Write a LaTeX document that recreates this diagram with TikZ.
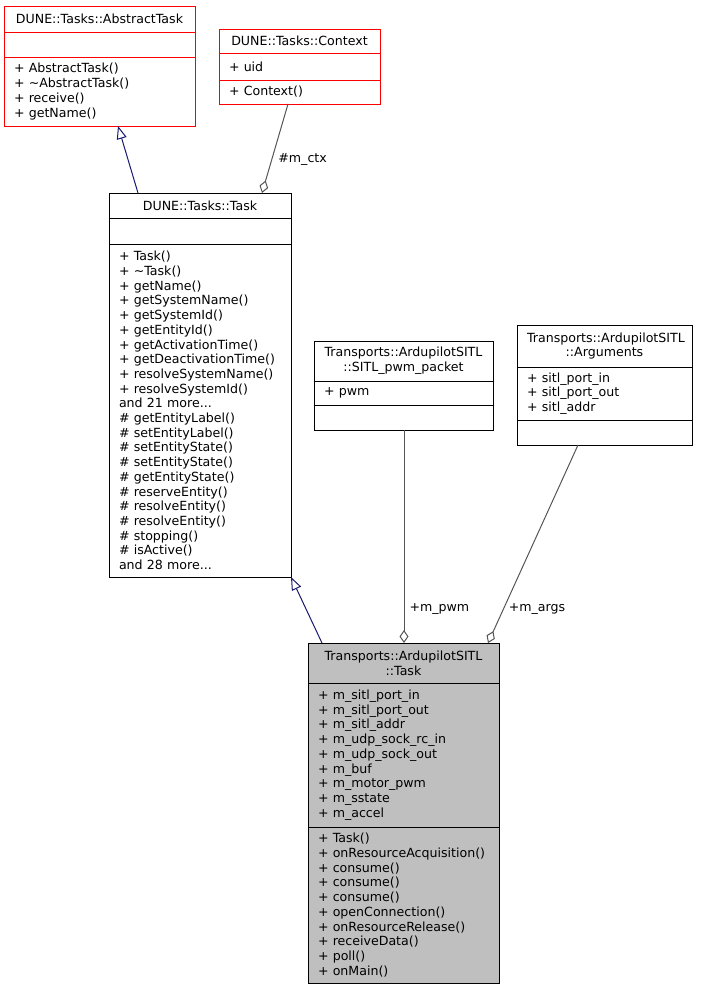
\documentclass[tikz,border=0pt]{standalone}
\usepackage{fontspec}
\setmainfont{DejaVu Sans}
\usetikzlibrary{arrows.meta}
\newcommand{\umlfont}{\fontsize{12.6}{14.7}\selectfont}
\definecolor{inhblue}{HTML}{191970}
\definecolor{usegray}{HTML}{555555}
\definecolor{boxgray}{HTML}{BFBFBF}
\tikzset{
  comp/.style={draw, line width=1pt, anchor=north west, outer sep=0pt,
    inner xsep=10pt, inner ysep=1pt, font=\umlfont, align=left},
  classname/.style={comp, align=center},
  inherit/.style={draw=inhblue, line width=1pt,
    -{Triangle[open, length=13pt, width=10pt, fill=white]}},
  member/.style={draw=usegray, line width=1pt,
    -{Diamond[open, length=13pt, width=9pt, fill=white]}},
  lbl/.style={font=\umlfont, anchor=west, inner sep=0pt}
}

\begin{document}
\begin{tikzpicture}[x=1pt,y=-1pt]
  \useasboundingbox (0,0) rectangle (701,989);
  % DUNE::Tasks::AbstractTask
  \node[classname, draw=red, text width=171pt, minimum height=26pt] (atT) at (4,6) {DUNE::Tasks::AbstractTask};
  \node[comp, draw=red, text width=171pt, minimum height=25pt] (atA) at (atT.south west) {};
  \node[comp, draw=red, text width=171pt, minimum height=69pt] (atM) at (atA.south west)
    {+ AbstractTask()\\+ \textasciitilde AbstractTask()\\+ receive()\\+ getName()};
  % DUNE::Tasks::Context
  \node[classname, draw=red, text width=141pt, minimum height=24pt] (ctxT) at (219,29) {DUNE::Tasks::Context};
  \node[comp, draw=red, text width=141pt, minimum height=27pt] (ctxA) at (ctxT.south west) {+ uid};
  \node[comp, draw=red, text width=141pt, minimum height=24pt] (ctxM) at (ctxA.south west) {+ Context()};
  % DUNE::Tasks::Task
  \node[classname, text width=162pt, minimum height=25pt] (taskT) at (109,193) {DUNE::Tasks::Task};
  \node[comp, text width=162pt, minimum height=26pt] (taskA) at (taskT.south west) {};
  \node[comp, text width=162pt, minimum height=333pt] (taskM) at (taskA.south west)
    {+ Task()\\+ \textasciitilde Task()\\+ getName()\\+ getSystemName()\\+ getSystemId()\\
     + getEntityId()\\+ getActivationTime()\\+ getDeactivationTime()\\+ resolveSystemName()\\
     + resolveSystemId()\\and 21 more...\\\# getEntityLabel()\\\# setEntityLabel()\\
     \# setEntityState()\\\# setEntityState()\\\# getEntityState()\\\# reserveEntity()\\
     \# resolveEntity()\\\# resolveEntity()\\\# stopping()\\\# isActive()\\and 28 more...};
  % Transports::ArdupilotSITL::SITL_pwm_packet
  \node[classname, text width=159pt, minimum height=40pt] (pwmT) at (314,341)
    {Transports::ArdupilotSITL\\::SITL\_pwm\_packet};
  \node[comp, text width=159pt, minimum height=24pt] (pwmA) at (pwmT.south west) {+ pwm};
  \node[comp, text width=159pt, minimum height=25pt] (pwmM) at (pwmA.south west) {};
  % Transports::ArdupilotSITL::Arguments
  \node[classname, text width=155pt, minimum height=42pt] (argsT) at (517,325)
    {Transports::ArdupilotSITL\\::Arguments};
  \node[comp, text width=155pt, minimum height=53pt] (argsA) at (argsT.south west)
    {+ sitl\_port\_in\\+ sitl\_port\_out\\+ sitl\_addr};
  \node[comp, text width=155pt, minimum height=25pt] (argsM) at (argsA.south west) {};
  % Transports::ArdupilotSITL::Task
  \node[classname, fill=boxgray, text width=171pt, minimum height=40pt] (sitlT) at (308,643)
    {Transports::ArdupilotSITL\\::Task};
  \node[comp, fill=boxgray, text width=171pt, minimum height=144pt] (sitlA) at (sitlT.south west)
    {+ m\_sitl\_port\_in\\+ m\_sitl\_port\_out\\+ m\_sitl\_addr\\+ m\_udp\_sock\_rc\_in\\
     + m\_udp\_sock\_out\\+ m\_buf\\+ m\_motor\_pwm\\+ m\_sstate\\+ m\_accel};
  \node[comp, fill=boxgray, text width=171pt, minimum height=156pt] (sitlM) at (sitlA.south west)
    {+ Task()\\+ onResourceAcquisition()\\+ consume()\\+ consume()\\+ consume()\\
     + openConnection()\\+ onResourceRelease()\\+ receiveData()\\+ poll()\\+ onMain()};
  % inheritance
  \draw[inherit] ([xshift=29pt]taskT.north west) -- ([xshift=114pt]atM.south west);
  \draw[inherit] ([xshift=14pt]sitlT.north west) -- (taskM.south east);
  % members
  \draw[member] ([xshift=69pt]ctxM.south west) -- ([xshift=153pt]taskT.north west)
    node[lbl, pos=0.62, xshift=6pt] {\#m\_ctx};
  \draw[member] ([xshift=90pt]pwmM.south west) -- ([xshift=96pt]sitlT.north west)
    node[lbl, pos=0.84, xshift=5pt] {+m\_pwm};
  \draw[member] ([xshift=61pt]argsM.south west) -- ([xshift=180pt]sitlT.north west)
    node[lbl, pos=0.83, xshift=5pt] {+m\_args};
\end{tikzpicture}
\end{document}
